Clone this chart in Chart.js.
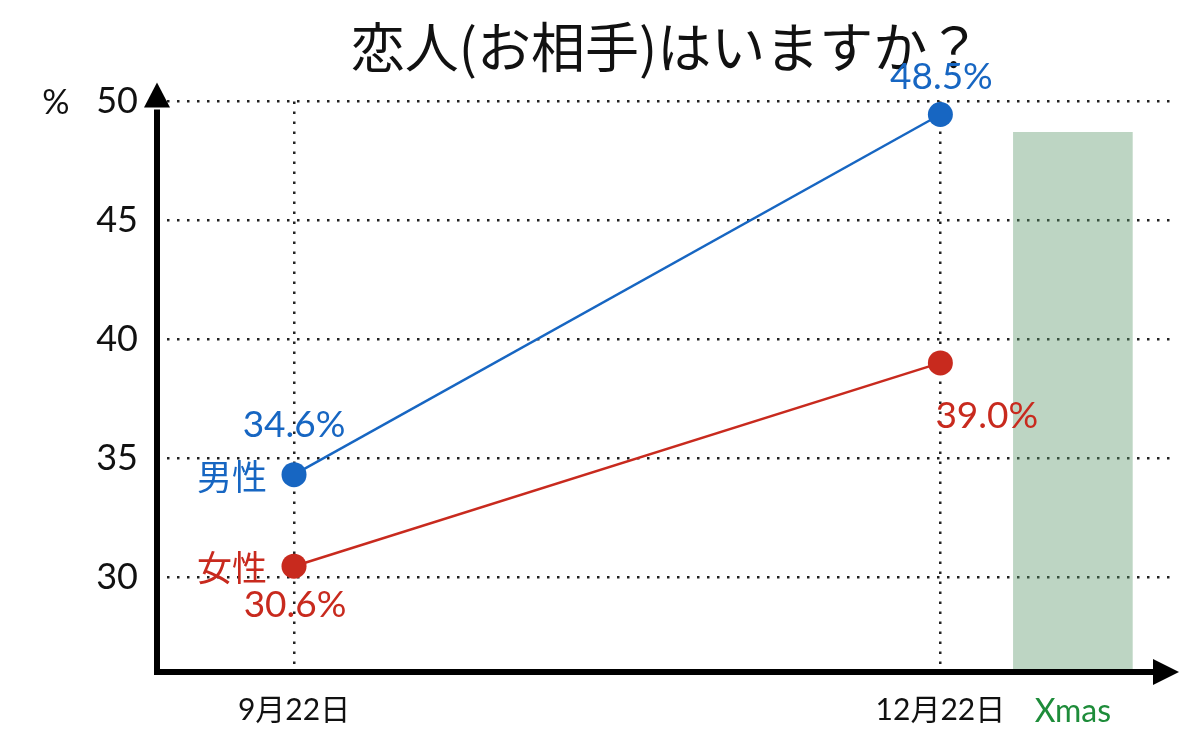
<!DOCTYPE html>
<html>
<head>
<meta charset="utf-8">
<script src="https://cdn.jsdelivr.net/npm/chart.js@4"></script>
<style>
  html, body { margin: 0; padding: 0; background: #fff; }
  #wrap { width: 1200px; height: 754px; }
</style>
</head>
<body>
<div id="wrap"><canvas id="lineChart"></canvas></div>
<script>
        // DATA
        const chartTitle = '恋人(お相手)はいますか？';
        const unitLabel = '%';
        const xTickLabels = ['9月22日', '12月22日', 'Xmas'];
        const xTickValues = [0, 1, 1.205];
        const yTickValues = [30, 35, 40, 45, 50];
        const seriesNames = ['男性', '女性'];
        const maleValues = [34.3, 49.45];
        const femaleValues = [30.45, 39.0];
        const maleLabels = ['34.6%', '48.5%'];
        const femaleLabels = ['30.6%', '39.0%'];
        const xmasValue = 48.7;

        // styles
        const blue = '#1766c2';
        const red = '#c82a1e';
        const green = '#1e8c3a';
        const numFont = "Lato, 'Noto Sans CJK JP', sans-serif";
        const jpFont = "'Noto Sans CJK JP', sans-serif";

        // label offsets (px) relative to each point
        const maleLabelPos = [{ dx: 0, dy: -50, align: 'center' }, { dx: 1, dy: -37, align: 'center' }];
        const femaleLabelPos = [{ dx: 1, dy: 39, align: 'center' }, { dx: -5, dy: 53, align: 'left' }];

        const toPoints = (vals) => vals.map((v, i) => ({ x: xTickValues[i], y: v }));

        // axes with arrows + text labels
        const decorPlugin = {
            id: 'decor',
            afterDatasetsDraw(chart) {
                const ctx = chart.ctx;
                const a = chart.chartArea;
                ctx.save();
                ctx.fillStyle = '#000';
                ctx.strokeStyle = '#000';
                ctx.lineWidth = 6;
                // y axis
                ctx.beginPath();
                ctx.moveTo(a.left, a.bottom + 3);
                ctx.lineTo(a.left, a.top + 8);
                ctx.stroke();
                ctx.beginPath();
                ctx.moveTo(a.left - 13, a.top + 6);
                ctx.lineTo(a.left + 13, a.top + 6);
                ctx.lineTo(a.left, a.top - 19);
                ctx.closePath();
                ctx.fill();
                // x axis
                ctx.beginPath();
                ctx.moveTo(a.left - 3, a.bottom);
                ctx.lineTo(a.right - 20, a.bottom);
                ctx.stroke();
                ctx.beginPath();
                ctx.moveTo(a.right - 22, a.bottom - 13);
                ctx.lineTo(a.right - 22, a.bottom + 13);
                ctx.lineTo(a.right + 4, a.bottom);
                ctx.closePath();
                ctx.fill();

                // unit label
                ctx.fillStyle = '#111';
                ctx.font = '34px ' + numFont;
                ctx.textAlign = 'center';
                ctx.textBaseline = 'middle';
                ctx.fillText(unitLabel, 56, chart.scales.y.getPixelForValue(yTickValues[yTickValues.length - 1]) + 2);

                // value labels + series names
                const sets = [
                    { meta: chart.getDatasetMeta(0), labels: maleLabels, pos: maleLabelPos, color: blue, name: seriesNames[0] },
                    { meta: chart.getDatasetMeta(1), labels: femaleLabels, pos: femaleLabelPos, color: red, name: seriesNames[1] }
                ];
                sets.forEach(s => {
                    ctx.fillStyle = s.color;
                    ctx.font = '37px ' + numFont;
                    s.meta.data.forEach((pt, i) => {
                        ctx.textAlign = s.pos[i].align;
                        ctx.fillText(s.labels[i], pt.x + s.pos[i].dx, pt.y + s.pos[i].dy);
                    });
                    const first = s.meta.data[0];
                    ctx.font = '35px ' + jpFont;
                    ctx.textAlign = 'right';
                    ctx.fillText(s.name, first.x - 27, first.y + 2);
                });
                ctx.restore();
            }
        };

        let lineChartCtx = document.getElementById('lineChart').getContext('2d');
        let lineChart = new Chart(lineChartCtx, {
            data: {
                datasets: [{
                    type: 'line',
                    label: seriesNames[0],
                    data: toPoints(maleValues),
                    borderColor: blue,
                    backgroundColor: blue,
                    borderWidth: 2.5,
                    pointRadius: 12.5,
                    pointBorderWidth: 0,
                    pointBackgroundColor: blue,
                    clip: false,
                    order: 1
                },
                {
                    type: 'line',
                    label: seriesNames[1],
                    data: toPoints(femaleValues),
                    borderColor: red,
                    backgroundColor: red,
                    borderWidth: 2.5,
                    pointRadius: 12.5,
                    pointBorderWidth: 0,
                    pointBackgroundColor: red,
                    clip: false,
                    order: 2
                },
                {
                    type: 'bar',
                    label: xTickLabels[2],
                    data: [{ x: xTickValues[2], y: xmasValue }],
                    backgroundColor: 'rgba(90, 150, 105, 0.4)',
                    borderWidth: 0,
                    barThickness: 119,
                    base: 26,
                    grouped: false,
                    order: 3
                }]
            },
            options: {
                responsive: true,
                maintainAspectRatio: false,
                animation: false,
                layout: { padding: { left: 0, right: 25, top: 0, bottom: 0 } },
                plugins: {
                    legend: { display: false },
                    tooltip: { enabled: false },
                    title: {
                        display: true,
                        text: chartTitle,
                        fullSize: false,
                        color: '#111',
                        font: { family: jpFont, size: 54, weight: 'normal', lineHeight: 1.1 },
                        padding: { top: 18, bottom: 24 }
                    }
                },
                scales: {
                    x: {
                        type: 'linear',
                        min: -0.212,
                        max: 1.363,
                        offset: false,
                        afterBuildTicks: (scale) => { scale.ticks = xTickValues.map(v => ({ value: v })); },
                        afterFit: (scale) => { scale.height = 82; },
                        ticks: {
                            autoSkip: false,
                            maxRotation: 0,
                            padding: 20,
                            font: (c) => ({ family: numFont, size: c.index === 2 ? 32 : 30 }),
                            color: (c) => c.index === 2 ? green : '#111',
                            callback: (v, i) => xTickLabels[i]
                        },
                        grid: {
                            offset: false,
                            drawTicks: false,
                            lineWidth: 2.5,
                            color: (c) => c.index < 2 ? '#222' : 'rgba(0,0,0,0)'
                        },
                        border: { display: false, dash: [2.5, 7.5] }
                    },
                    y: {
                        min: 26,
                        max: 50,
                        afterBuildTicks: (scale) => { scale.ticks = yTickValues.map(v => ({ value: v })); },
                        afterFit: (scale) => { scale.width = 157; },
                        ticks: {
                            padding: 19,
                            font: { family: numFont, size: 36 },
                            color: '#111'
                        },
                        grid: {
                            drawTicks: false,
                            lineWidth: 2.5,
                            color: '#222'
                        },
                        border: { display: false, dash: [2.5, 7.5] }
                    }
                }
            },
            plugins: [decorPlugin]
        });
</script>
</body>
</html>
